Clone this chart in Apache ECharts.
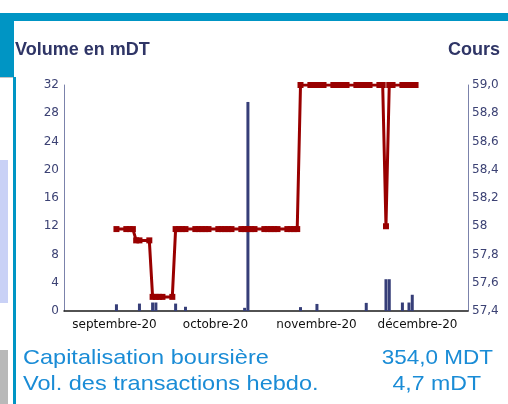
<!DOCTYPE html>
<html>
<head>
<meta charset="utf-8">
<script src="https://cdn.jsdelivr.net/npm/echarts@6/dist/echarts.min.js"></script>
<style>
html, body {margin:0; padding:0; background:#fff;}
#chart {width:508px; height:404px;}
</style>
</head>
<body>
<div id="chart"></div>
<script>
// month labels under the x axis
const monthLabels = ['septembre-20', 'octobre-20', 'novembre-20', 'décembre-20'];
// right axis tick labels (cours)
const coursTicks = ['57,4', '57,6', '57,8', '58', '58,2', '58,4', '58,6', '58,8', '59,0'];

// daily volume (mDT)
const volumeDates = ['2020-09-04', '2020-09-11', '2020-09-15', '2020-09-16', '2020-09-22', '2020-09-25',
    '2020-10-13', '2020-10-14', '2020-10-30', '2020-11-04', '2020-11-19', '2020-11-25', '2020-11-26',
    '2020-11-30', '2020-12-02', '2020-12-03'];
const volumeValues = [0.95, 1.05, 1.2, 1.2, 1.05, 0.6,
    0.45, 29.6, 0.55, 1.0, 1.15, 4.5, 4.5,
    1.2, 1.2, 2.3];

// daily closing price
const priceDates = ['2020-09-04',
    '2020-09-07', '2020-09-08', '2020-09-09', '2020-09-10', '2020-09-11',
    '2020-09-14', '2020-09-15', '2020-09-16', '2020-09-17', '2020-09-18',
    '2020-09-21', '2020-09-22', '2020-09-23', '2020-09-24', '2020-09-25',
    '2020-09-28', '2020-09-29', '2020-09-30', '2020-10-01', '2020-10-02',
    '2020-10-05', '2020-10-06', '2020-10-07', '2020-10-08', '2020-10-09',
    '2020-10-12', '2020-10-13', '2020-10-14', '2020-10-15', '2020-10-16',
    '2020-10-19', '2020-10-20', '2020-10-21', '2020-10-22', '2020-10-23',
    '2020-10-26', '2020-10-27', '2020-10-28', '2020-10-29', '2020-10-30',
    '2020-11-02', '2020-11-03', '2020-11-04', '2020-11-05', '2020-11-06',
    '2020-11-09', '2020-11-10', '2020-11-11', '2020-11-12', '2020-11-13',
    '2020-11-16', '2020-11-17', '2020-11-18', '2020-11-19', '2020-11-20',
    '2020-11-23', '2020-11-24', '2020-11-25', '2020-11-26', '2020-11-27',
    '2020-11-30', '2020-12-01', '2020-12-02', '2020-12-03', '2020-12-04'];
const priceValues = [57.98,
    57.98, 57.98, 57.98, 57.9, 57.9,
    57.9, 57.5, 57.5, 57.5, 57.5,
    57.5, 57.98, 57.98, 57.98, 57.98,
    57.98, 57.98, 57.98, 57.98, 57.98,
    57.98, 57.98, 57.98, 57.98, 57.98,
    57.98, 57.98, 57.98, 57.98, 57.98,
    57.98, 57.98, 57.98, 57.98, 57.98,
    57.98, 57.98, 57.98, 57.98, 59,
    59, 59, 59, 59, 59,
    59, 59, 59, 59, 59,
    59, 59, 59, 59, 59,
    59, 59, 58, 59, 59,
    59, 59, 59, 59, 59];

const blue = '#0095c4';
const navy = '#2f3566';
const lightBlue = '#1a8cd6';

let chart = echarts.init(document.getElementById('chart'), null, {renderer:'canvas'});

let options = {
    animation: false,
    backgroundColor: '#fff',
    grid: {left:64, right:40, top:85, bottom:93},
    xAxis: [
        {
            type: 'time',
            min: new Date(2020, 7, 19, 12).getTime(),
            max: new Date(2020, 11, 19, 12).getTime(),
            axisLine: {show:true, lineStyle:{color:'#1a1a1a', width:1.5}},
            axisTick: {show:false},
            axisLabel: {show:false},
            splitLine: {show:false}
        },
        {
            type: 'category',
            position: 'bottom',
            data: monthLabels,
            boundaryGap: true,
            axisLine: {show:false},
            axisTick: {show:false},
            splitLine: {show:false},
            axisLabel: {color:'#111', fontSize:12, fontFamily:'DejaVu Sans', margin:8, interval:0}
        }
    ],
    yAxis: [
        {
            type: 'value',
            position: 'left',
            min: 0, max: 32, interval: 4,
            axisLine: {show:true, lineStyle:{color:'#7b82ab'}},
            axisTick: {show:false},
            splitLine: {show:false},
            axisLabel: {color:'#3c4274', fontSize:12, fontFamily:'DejaVu Sans', margin:5}
        },
        {
            type: 'value',
            position: 'right',
            min: 57.4, max: 59, interval: 0.2,
            axisLine: {show:true, lineStyle:{color:'#7b82ab'}},
            axisTick: {show:false},
            splitLine: {show:false},
            axisLabel: {
                color:'#3c4274', fontSize:12, fontFamily:'DejaVu Sans', margin:4,
                formatter: v => coursTicks[Math.round((v - 57.4) / 0.2)]
            }
        }
    ],
    graphic: [
        {type:'rect', silent:true, shape:{x:0, y:13, width:508, height:8}, style:{fill:blue}},
        {type:'rect', silent:true, shape:{x:0, y:13, width:14, height:64}, style:{fill:blue}},
        {type:'rect', silent:true, shape:{x:13, y:77, width:3, height:327}, style:{fill:blue}},
        {type:'rect', silent:true, shape:{x:0, y:77, width:13, height:1}, style:{fill:'#c4c4c4'}},
        {type:'rect', silent:true, shape:{x:0, y:160, width:8, height:143}, style:{fill:'#c9d1f6'}},
        {type:'rect', silent:true, shape:{x:0, y:350, width:8, height:54}, style:{fill:'#b9b9b9'}},
        {type:'text', silent:true, x:15, y:50, style:{text:'Volume en mDT', fill:navy,
            font:'bold 18px "Liberation Sans"', textAlign:'left', textVerticalAlign:'middle'}},
        {type:'text', silent:true, x:500, y:50, style:{text:'Cours', fill:navy,
            font:'bold 18px "Liberation Sans"', textAlign:'right', textVerticalAlign:'middle'}},
        {type:'text', silent:true, x:23, y:358, scaleX:1.12, style:{text:'Capitalisation boursière', fill:lightBlue,
            font:'21px "Liberation Sans"', textAlign:'left', textVerticalAlign:'middle'}},
        {type:'text', silent:true, x:493, y:358, scaleX:1.07, style:{text:'354,0 MDT', fill:lightBlue,
            font:'21px "Liberation Sans"', textAlign:'right', textVerticalAlign:'middle'}},
        {type:'text', silent:true, x:23, y:384, scaleX:1.12, style:{text:'Vol. des transactions hebdo.', fill:lightBlue,
            font:'21px "Liberation Sans"', textAlign:'left', textVerticalAlign:'middle'}},
        {type:'text', silent:true, x:481, y:384, scaleX:1.1, style:{text:'4,7 mDT', fill:lightBlue,
            font:'21px "Liberation Sans"', textAlign:'right', textVerticalAlign:'middle'}}
    ],
    series: [
        {
            type: 'bar',
            xAxisIndex: 0,
            yAxisIndex: 0,
            barWidth: 3,
            itemStyle: {color:'#363e78'},
            data: volumeDates.map((d, i) => [d, volumeValues[i]]),
            z: 2
        },
        {
            type: 'line',
            xAxisIndex: 0,
            yAxisIndex: 1,
            symbol: 'rect',
            symbolSize: 6,
            showSymbol: true,
            lineStyle: {color:'#990000', width:3},
            itemStyle: {color:'#990000'},
            data: priceDates.map((d, i) => [d, priceValues[i]]),
            z: 3
        }
    ]
};
chart.setOption(options);
</script>
</body>
</html>
